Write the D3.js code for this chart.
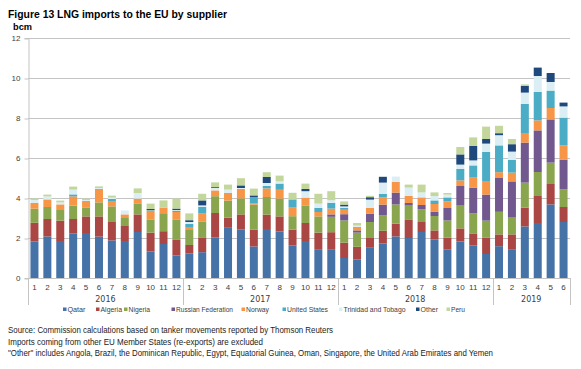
<!DOCTYPE html>
<html>
<head>
<meta charset="utf-8">
<script src="https://cdn.jsdelivr.net/npm/d3@7"></script>
<style>
  body { margin: 0; background: #fff; }
  svg { display: block; font-family: "DejaVu Sans", Verdana, sans-serif; }
  .narrow { font-family: "Liberation Sans", Arial, sans-serif; }
</style>
</head>
<body>
<svg id="chart"></svg>
<script>
// months and years
const years = ["2016", "2017", "2018", "2019"]
const monthsPerYear = [12, 12, 12, 6]

const suppliers = ["Qatar", "Algeria", "Nigeria", "Russian Federation", "Norway",
  "United States", "Trinidad and Tobago", "Other", "Peru"]

// bcm per month
const qatar = [1.83,2.08,1.85,2.22,2.25,2.07,1.88,1.85,2.3,1.33,1.7,1.13,
  1.23,1.29,2.02,2.51,2.42,1.58,2.45,2.33,1.62,1.85,1.44,1.44,
  1.0,0.93,1.54,1.73,2.08,2.0,2.3,1.92,1.42,1.83,1.62,1.2,
  1.59,1.44,2.58,2.75,3.68,2.8]
const algeria = [0.93,0.87,1.02,0.73,0.83,1.01,0.92,0.75,0.88,0.94,0.64,0.8,
  0.42,0.74,1.23,0.51,0.76,0.84,0.72,0.75,0.8,0.9,0.83,0.85,
  0.77,0.63,0.46,0.63,0.64,0.93,0.5,0.46,0.6,0.65,0.61,0.81,
  0.59,0.74,0.94,1.35,1.02,0.75]
const nigeria = [0.71,0.6,0.53,0.67,0.45,0.7,0.78,0.4,0.55,0.66,0.9,1.0,
  0.75,0.8,0.84,0.85,0.8,1.25,0.88,0.89,0.67,0.88,0.81,0.77,
  1.11,0.71,0.8,0.78,0.96,0.69,0.63,0.72,0.86,1.14,1.0,0.86,
  1.13,0.84,1.25,1.2,1.07,0.88]
const russia = [0,0,0,0,0,0,0,0,0,0,0,0,
  0,0,0,0,0,0,0,0,0,0,0,0.12,
  0.31,0.11,0.42,0.53,0.59,0.13,0.22,0.22,0.62,0.98,1.29,1.3,
  1.69,1.81,2.0,2.08,2.16,1.49]
const norway = [0.28,0.38,0.28,0.46,0.32,0.67,0.27,0.18,0.24,0.44,0.28,0.37,
  0.15,0.39,0.29,0.38,0.48,0.05,0.43,0.44,0.43,0.39,0.22,0.29,
  0.22,0.18,0.29,0.37,0.53,0.35,0.38,0.38,0.33,0.28,0.5,0.68,
  0.29,0.44,0.48,0.5,0.57,0.71]
const unitedStates = [0,0,0,0.1,0,0,0.1,0,0,0.03,0,0.07,
  0.15,0.34,0,0,0,0.33,0.12,0.31,0.41,0,0.21,0.29,
  0.09,0,0,0.17,0,0,0,0.18,0.2,0.57,0.61,1.45,
  1.34,0.64,1.45,1.42,0.87,1.39]
const trinidad = [0.15,0.15,0.1,0.24,0.05,0.05,0.07,0.2,0.28,0,0,0.03,
  0.1,0.07,0.13,0.17,0.04,0,0.15,0.11,0,0.32,0.21,0.13,
  0.08,0.06,0.41,0.56,0.27,0.42,0.25,0.22,0.14,0.22,0.25,0.42,
  0.51,0.41,0.57,0.8,0.43,0.56]
const other = [0,0,0,0,0,0,0,0,0,0.05,0,0.07,
  0.09,0.25,0.04,0,0.13,0.08,0.3,0,0,0.11,0,0,
  0.09,0,0.12,0.29,0,0,0,0,0,0.51,0.72,0.23,
  0.1,0.37,0.33,0.42,0.45,0.19]
const peru = [0.07,0.09,0.09,0.15,0.07,0.08,0.1,0,0.23,0.27,0.36,0.5,
  0.34,0.33,0.23,0.25,0.36,0.34,0.24,0.29,0.33,0.27,0.49,0.45,
  0.16,0.13,0.07,0,0,0.15,0.39,0.18,0.08,0.37,0.43,0.62,
  0.37,0.26,0.08,0,0,0]

const yTicks = [0, 2, 4, 6, 8, 10, 12]
const colors = ["#4572a7", "#aa4643", "#89a54e", "#71588f", "#f79646",
  "#4bacc6", "#dbeef4", "#1f497d", "#c3d69b"]

const seriesValues = [qatar, algeria, nigeria, russia, norway, unitedStates, trinidad, other, peru]

// build rows for the stack
const rows = []
years.forEach((yr, yi) => {
  for (let m = 1; m <= monthsPerYear[yi]; m++) {
    rows.push({ key: yr + "-" + m, year: yr, month: m })
  }
})
rows.forEach((row, i) => {
  suppliers.forEach((s, si) => { row[s] = seriesValues[si][i] })
})

const width = 581, height = 369
const margin = { left: 28, right: 11, top: 38, bottom: 91 }

const svg = d3.select("#chart")
  .attr("width", width)
  .attr("height", height)

const x = d3.scaleBand()
  .domain(rows.map(d => d.key))
  .range([margin.left, width - margin.right])
  .paddingInner(0.38)
  .paddingOuter(0.19)

const y = d3.scaleLinear()
  .domain([0, 12])
  .range([height - margin.bottom, margin.top])

// gridlines
svg.append("g")
  .selectAll("line")
  .data(yTicks)
  .join("line")
  .attr("x1", margin.left).attr("x2", width - margin.right)
  .attr("y1", d => Math.round(y(d)) + 0.5).attr("y2", d => Math.round(y(d)) + 0.5)
  .attr("stroke", "#c4c4c4")

// y axis
const yAxis = svg.append("g")
  .attr("transform", `translate(${margin.left + 0.5},0)`)
  .call(d3.axisLeft(y).tickValues(yTicks).tickSize(4).tickPadding(4))
yAxis.select(".domain").attr("stroke", "#c4c4c4")
yAxis.selectAll(".tick line").attr("stroke", "#c4c4c4")
  .attr("transform", "translate(0,0.5)")
yAxis.selectAll("text").attr("font-size", "8px").attr("fill", "#404040")

// stacked bars
const stack = d3.stack().keys(suppliers)(rows)
svg.append("g")
  .selectAll("g")
  .data(stack)
  .join("g")
  .attr("fill", (d, i) => colors[i])
  .selectAll("rect")
  .data(d => d)
  .join("rect")
  .attr("x", d => x(d.data.key))
  .attr("width", x.bandwidth())
  .attr("y", d => y(d[1]))
  .attr("height", d => Math.max(0, y(d[0]) - y(d[1])))

// x axis: months
const xAxis = svg.append("g")
  .attr("transform", `translate(0,${y(0)})`)
  .call(d3.axisBottom(x).tickSize(0).tickPadding(6).tickFormat(k => k.split("-")[1]))
xAxis.select(".domain").remove()
xAxis.selectAll("text").attr("font-size", "8px").attr("fill", "#404040")

// year groups
const step = x.step()
let start = 0
const yearGroups = years.map((yr, i) => {
  const g = { year: yr, from: start, to: start + monthsPerYear[i] }
  start += monthsPerYear[i]
  return g
})
const x0 = margin.left
const sepX = [0].concat(yearGroups.map(g => g.to)).map(n => Math.round(x0 + n * step) + 0.5)
svg.append("g")
  .selectAll("line")
  .data(sepX)
  .join("line")
  .attr("x1", d => d).attr("x2", d => d)
  .attr("y1", y(0)).attr("y2", y(0) + 27)
  .attr("stroke", "#c4c4c4")

svg.append("g")
  .selectAll("text")
  .data(yearGroups)
  .join("text")
  .attr("x", g => x0 + (g.from + g.to) / 2 * step)
  .attr("y", y(0) + 24)
  .attr("text-anchor", "middle")
  .attr("font-size", "8px")
  .attr("fill", "#404040")
  .text(g => g.year)

// legend
const legendX = [63, 96, 124, 171.5, 241.5, 282.5, 339, 416, 446.5]
const legendW = [18, 21.5, 21.5, 57, 23, 41, 62, 17.5, 14]
const legend = svg.append("g").attr("transform", "translate(0,309)")
const item = legend.selectAll("g")
  .data(suppliers)
  .join("g")
  .attr("transform", (d, i) => `translate(${legendX[i]},0)`)
item.append("rect")
  .attr("x", 0).attr("y", -1.5).attr("width", 3.5).attr("height", 3.5)
  .attr("fill", (d, i) => colors[i])
item.append("text")
  .attr("class", "narrow")
  .attr("x", 4.5).attr("y", 2.6)
  .attr("font-size", "7.2px")
  .attr("fill", "#404040")
  .attr("textLength", (d, i) => legendW[i])
  .attr("lengthAdjust", "spacingAndGlyphs")
  .text(d => d)

// title and notes
svg.append("text")
  .attr("class", "narrow")
  .attr("x", 8).attr("y", 18)
  .attr("font-size", "11px").attr("font-weight", "bold")
  .attr("textLength", 219).attr("lengthAdjust", "spacingAndGlyphs")
  .text("Figure 13 LNG imports to the EU by supplier")

svg.append("text")
  .attr("class", "narrow")
  .attr("x", 13).attr("y", 30)
  .attr("font-size", "8.5px").attr("font-weight", "bold")
  .attr("textLength", 19).attr("lengthAdjust", "spacingAndGlyphs")
  .text("bcm")

const notes = [
  { t: "Source: Commission calculations based on tanker movements reported by Thomson Reuters", w: 325, yy: 333 },
  { t: "Imports coming from other EU Member States (re-exports) are excluded", w: 255, yy: 344.5 },
  { t: "\"Other\" includes Angola, Brazil, the Dominican Republic, Egypt, Equatorial Guinea, Oman, Singapore, the United Arab Emirates and Yemen", w: 485, yy: 356 }
]
svg.append("g")
  .selectAll("text")
  .data(notes)
  .join("text")
  .attr("class", "narrow")
  .attr("x", 8).attr("y", d => d.yy)
  .attr("font-size", "8.8px")
  .attr("fill", "#222")
  .attr("textLength", d => d.w).attr("lengthAdjust", "spacingAndGlyphs")
  .text(d => d.t)
</script>
</body>
</html>
